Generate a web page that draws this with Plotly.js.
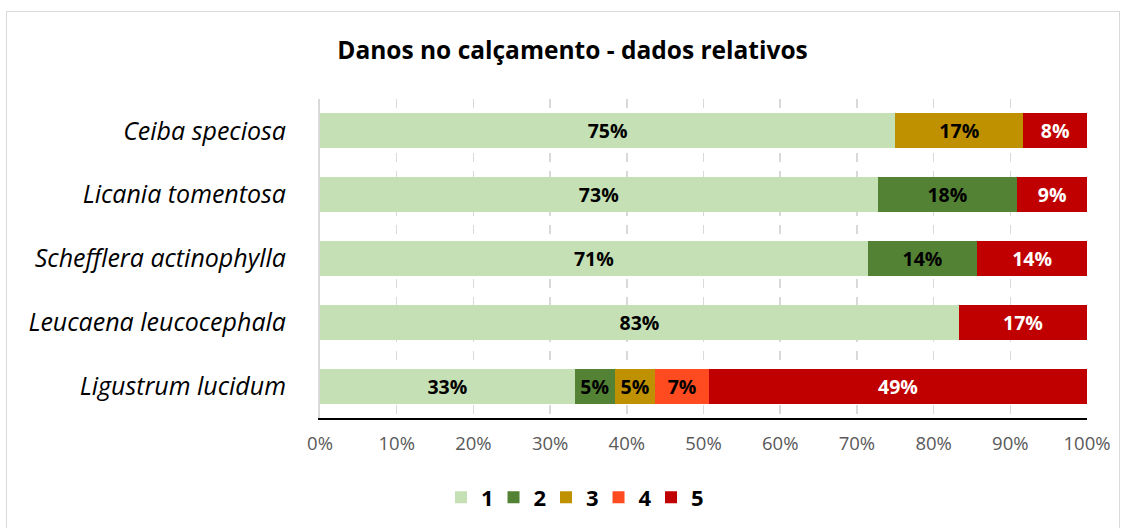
<!DOCTYPE html>
<html>
<head>
<meta charset="utf-8">
<script src="https://cdn.plot.ly/plotly-3.0.1.min.js"></script>
<style>
html,body{margin:0;padding:0;background:#fff;}
#frame{position:absolute;left:6px;top:11px;width:1114px;height:530px;border:1px solid #d9d9d9;box-sizing:border-box;}
#chart{position:absolute;left:0;top:0;width:1127px;height:528px;}
</style>
</head>
<body>
<div id="frame"></div>
<div id="chart"></div>
<script>
const species = ["Ceiba speciosa","Licania tomentosa","Schefflera actinophylla","Leucaena leucocephala","Ligustrum lucidum"];
const seriesNames = ["1","2","3","4","5"];
const s1 = [75.0, 72.7, 71.4, 83.3, 33.2];
const s2 = [0, 18.2, 14.3, 0, 5.2];
const s3 = [16.7, 0, 0, 0, 5.3];
const s4 = [0, 0, 0, 0, 7.0];
const s5 = [8.3, 9.1, 14.3, 16.7, 49.3];
const tickValues = [0,10,20,30,40,50,60,70,80,90,100];
const tickLabels = ["0%","10%","20%","30%","40%","50%","60%","70%","80%","90%","100%"];
const colors = ["#C5E0B4","#548235","#BF9000","#FF4B1F","#C00000"];
const textColors = ["#000000","#000000","#000000","#000000","#FFFFFF"];

const allSeries = [s1,s2,s3,s4,s5];
const font = "'Open Sans', Lato, 'Liberation Sans', sans-serif";

const traces = allSeries.map((vals,i)=>({
  type:'bar',
  orientation:'h',
  name: seriesNames[i],
  y: species,
  x: vals,
  marker:{color:colors[i], line:{width:0}},
  text: vals.map(v => v ? Math.round(v)+'%' : ''),
  textposition:'inside',
  insidetextanchor:'middle',
  textangle:0,
  constraintext:'none',
  insidetextfont:{family:font, size:19.5, color:textColors[i], weight:700},
  hoverinfo:'none'
}));

const layout = {
  width:1127, height:528,
  paper_bgcolor:'rgba(0,0,0,0)',
  plot_bgcolor:'rgba(0,0,0,0)',
  barmode:'stack',
  bargap:0.45,
  margin:{l:320, r:40, t:99, b:110},
  title:{text:'<b>Danos no calçamento - dados relativos</b>', font:{family:font, size:24.5, color:'#000'}, x:0.508, xref:'container', xanchor:'center', y:0.905, yref:'container', yanchor:'middle'},
  xaxis:{
    range:[0,100], tickmode:'array', tickvals:tickValues, ticktext:tickLabels,
    showgrid:true, gridcolor:'#d9d9d9', griddash:'dash', gridwidth:1.5,
    zeroline:false, showline:true, linecolor:'#000', linewidth:2,
    ticks:'', tickfont:{family:font, size:18.5, color:'#595959'}, ticklabelstandoff:8, fixedrange:true
  },
  yaxis:{
    categoryorder:'array', categoryarray:species, autorange:'reversed',
    showline:true, linecolor:'#d9d9d9', linewidth:2, showgrid:false, zeroline:false,
    ticks:'', tickfont:{family:font, size:25, color:'#000', style:'italic'}, ticklabelstandoff:27, fixedrange:true
  },
  showlegend:true,
  legend:{orientation:'h', x:0.508, xref:'container', xanchor:'center', y:0.058, yref:'container', yanchor:'middle',
    font:{family:font, size:22, color:'#000', weight:700}, itemwidth:30, entrywidth:7.5, traceorder:'normal'},
  font:{family:font}
};

Plotly.newPlot('chart', traces, layout, {displayModeBar:false, staticPlot:true});
</script>
</body>
</html>
